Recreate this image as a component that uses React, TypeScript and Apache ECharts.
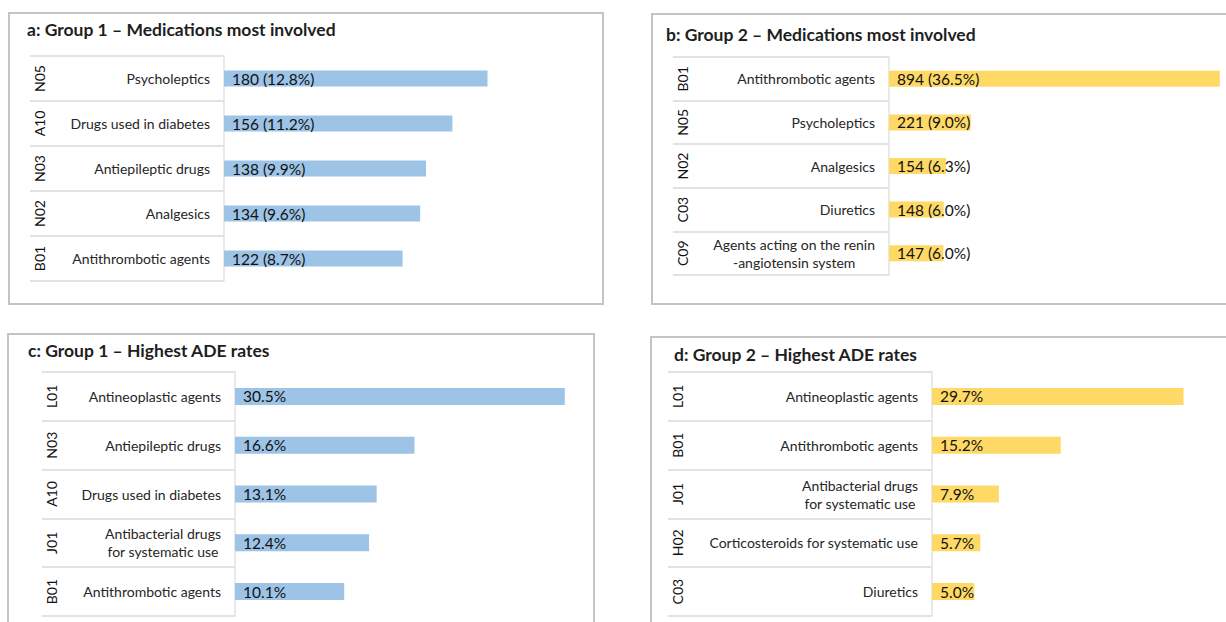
import React, { useEffect, useRef } from "react";
import * as echarts from "echarts";

// ---------- data ----------
const titles = [
  "a: Group 1 – Medications most involved",
  "b: Group 2 – Medications most involved",
  "c: Group 1 – Highest ADE rates",
  "d: Group 2 – Highest ADE rates",
];

const codesA = ["N05", "A10", "N03", "N02", "B01"];
const namesA = ["Psycholeptics", "Drugs used in diabetes", "Antiepileptic drugs", "Analgesics", "Antithrombotic agents"];
const countsA = [180, 156, 138, 134, 122];
const pctA = [12.8, 11.2, 9.9, 9.6, 8.7];

const codesB = ["B01", "N05", "N02", "C03", "C09"];
const namesB = ["Antithrombotic agents", "Psycholeptics", "Analgesics", "Diuretics", "Agents acting on the renin\n-angiotensin system"];
const countsB = [894, 221, 154, 148, 147];
const pctB = [36.5, 9.0, 6.3, 6.0, 6.0];

const codesC = ["L01", "N03", "A10", "J01", "B01"];
const namesC = ["Antineoplastic agents", "Antiepileptic drugs", "Drugs used in diabetes", "Antibacterial drugs\nfor systematic use", "Antithrombotic agents"];
const ratesC = [30.5, 16.6, 13.1, 12.4, 10.1];

const codesD = ["L01", "B01", "J01", "H02", "C03"];
const namesD = ["Antineoplastic agents", "Antithrombotic agents", "Antibacterial drugs\nfor systematic use", "Corticosteroids for systematic use", "Diuretics"];
const ratesD = [29.7, 15.2, 7.9, 5.7, 5.0];

// ---------- layout / style ----------
const FONT = "Lato, 'Open Sans', sans-serif";
const BLUE = "#9DC3E6";
const YELLOW = "#FFD966";

const panels = [
  {
    codes: codesA, names: namesA, values: countsA, color: BLUE,
    fmt: (v: number, i: number) => `${v} (${pctA[i].toFixed(1)}%)`,
    titleX: 27, titleY: 29, box: [9, 13, 594, 291],
    tableL: 30, barL: 224, barR: 590, top: 56, bottom: 281, max: 250, barW: 16,
  },
  {
    codes: codesB, names: namesB, values: countsB, color: YELLOW,
    fmt: (v: number, i: number) => `${v} (${pctB[i].toFixed(1)}%)`,
    titleX: 666, titleY: 34.5, box: [652, 14, 620, 290],
    tableL: 673, barL: 889, barR: 1222, top: 57, bottom: 275, max: 900, barW: 16,
  },
  {
    codes: codesC, names: namesC, values: ratesC, color: BLUE,
    fmt: (v: number) => `${v.toFixed(1)}%`,
    titleX: 28, titleY: 350.5, box: [8, 334, 586, 300],
    tableL: 42, barL: 235, barR: 581, top: 372, bottom: 616, max: 32, barW: 17,
  },
  {
    codes: codesD, names: namesD, values: ratesD, color: YELLOW,
    fmt: (v: number) => `${v.toFixed(1)}%`,
    titleX: 674, titleY: 354.5, box: [651, 337, 620, 300],
    tableL: 668, barL: 932, barR: 1203, top: 372, bottom: 616, max: 32, barW: 17,
  },
];

function buildOption() {
  const title: any[] = [];
  const grid: any[] = [];
  const xAxis: any[] = [];
  const yAxis: any[] = [];
  const series: any[] = [];
  const graphic: any[] = [];

  panels.forEach((p, k) => {
    graphic.push({
      type: "rect",
      shape: { x: p.box[0], y: p.box[1], width: p.box[2], height: p.box[3] },
      style: { fill: "none", stroke: "#c4c4c4", lineWidth: 2 },
      silent: true,
      z: -1,
    });
    title.push({
      text: titles[k],
      left: p.titleX,
      top: p.titleY - 10,
      padding: 0,
      textStyle: { fontFamily: FONT, fontSize: 17.5, fontWeight: "bold", color: "#1e1e1e", lineHeight: 20 },
    });

    const h = p.bottom - p.top;
    const gT = grid.length;
    grid.push({ left: p.tableL, top: p.top, width: p.barL - p.tableL, height: h, containLabel: false });
    const gB = grid.length;
    grid.push({ left: p.barL, top: p.top, width: p.barR - p.barL, height: h, containLabel: false });

    xAxis.push({ type: "value", gridIndex: gT, min: 0, max: 1, show: false });
    const xB = xAxis.length;
    xAxis.push({ type: "value", gridIndex: gB, min: 0, max: p.max, show: false });

    // codes axis (left, rotated, with row separators)
    yAxis.push({
      type: "category", gridIndex: gT, position: "left", inverse: true, data: p.codes,
      axisLine: { show: false }, axisTick: { show: false },
      axisLabel: {
        inside: true, rotate: 90, margin: 2.5, interval: 0,
        fontFamily: FONT, fontSize: 14, color: "#111111",
      },
      splitLine: { show: true, interval: 0, lineStyle: { color: "#e2e2e2", width: 2 } },
    });
    // names axis (right, inside, with vertical line)
    yAxis.push({
      type: "category", gridIndex: gT, position: "right", inverse: true, data: p.names,
      axisLine: { show: true, lineStyle: { color: "#e2e2e2", width: 1.5 } },
      axisTick: { show: false },
      axisLabel: {
        inside: true, margin: 14, interval: 0,
        formatter: (v: string) => v.split("\n").map((l) => `{n|${l}}`).join("\n"),
        rich: { n: { align: "center", fontFamily: FONT, fontSize: 14, color: "#262626", lineHeight: 18 } },
      },
      splitLine: { show: false },
    });
    const yB = yAxis.length;
    yAxis.push({ type: "category", gridIndex: gB, inverse: true, data: p.names, show: false });

    series.push({
      type: "bar",
      xAxisIndex: xB,
      yAxisIndex: yB,
      data: p.values,
      barWidth: p.barW,
      itemStyle: { color: p.color },
      label: {
        show: true,
        position: "insideLeft",
        distance: 8,
        fontFamily: FONT,
        fontSize: 15.5,
        color: "#111111",
        formatter: (prm: any) => p.fmt(prm.value, prm.dataIndex),
      },
    });
  });

  return { animation: false, backgroundColor: "#ffffff", title, grid, xAxis, yAxis, series, graphic };
}

export default function App() {
  const ref = useRef<HTMLDivElement>(null);
  useEffect(() => {
    if (!ref.current) return;
    const chart = echarts.init(ref.current, undefined, { renderer: "svg" });
    chart.setOption(buildOption() as any);
    return () => chart.dispose();
  }, []);
  return (
    <div
      ref={ref}
      style={{ position: "fixed", left: 0, top: 0, width: 1226, height: 622, background: "#fff" }}
    />
  );
}
